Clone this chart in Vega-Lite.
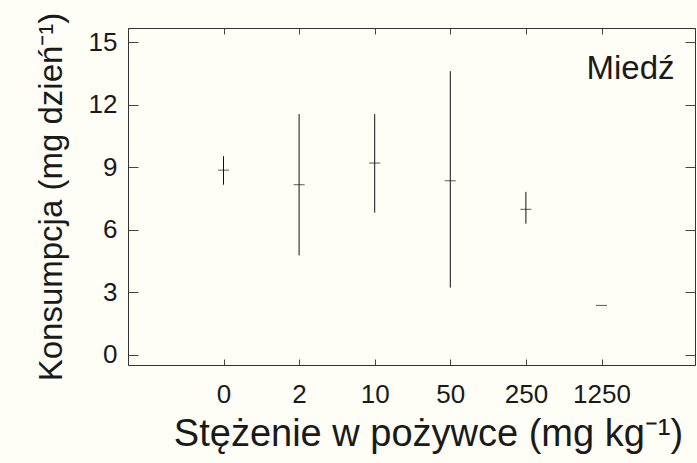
{
  "$schema": "https://vega.github.io/schema/vega-lite/v6.json",
  "width": 567,
  "height": 337,
  "autosize": {"type": "none"},
  "padding": {"left": 128, "top": 28, "right": 2, "bottom": 98},
  "background": "#fefef6",
  "layer": [
    {
      "data": {
        "values": [
          {"stezenie": "0", "srednia": 8.87, "min": 8.17, "max": 9.54},
          {"stezenie": "2", "srednia": 8.17, "min": 4.78, "max": 11.56},
          {"stezenie": "10", "srednia": 9.21, "min": 6.83, "max": 11.56},
          {"stezenie": "50", "srednia": 8.36, "min": 3.23, "max": 13.62},
          {"stezenie": "250", "srednia": 6.99, "min": 6.3, "max": 7.83},
          {"stezenie": "1250", "srednia": 2.38, "min": 2.38, "max": 2.38}
        ]
      },
      "layer": [
        {
          "mark": {"type": "rule", "color": "#111", "strokeWidth": 1},
          "encoding": {
            "x": {
              "field": "stezenie",
              "type": "ordinal",
              "sort": ["0", "2", "10", "50", "250", "1250"],
              "scale": {"type": "point", "range": [95.5, 473.5], "padding": 0},
              "axis": {
                "orient": "bottom",
                "title": "Stężenie w pożywce (mg kg⁻¹)",
                "labelAngle": 0,
                "tickSize": -6,
                "labelPadding": 22,
                "titlePadding": 8,
                "titleX": 300,
                "titleAlign": "center"
              }
            },
            "y": {
              "field": "min",
              "type": "quantitative",
              "scale": {"domain": [-0.48, 15.69], "nice": false, "zero": false},
              "axis": {
                "orient": "left",
                "title": "Konsumpcja (mg dzień⁻¹)",
                "values": [0, 3, 6, 9, 12, 15],
                "tickSize": -10,
                "labelPadding": 21,
                "titlePadding": 20
              }
            },
            "y2": {"field": "max"}
          }
        },
        {
          "mark": {"type": "tick", "color": "#111", "size": 11, "thickness": 1},
          "encoding": {
            "x": {
              "field": "stezenie",
              "type": "ordinal",
              "sort": ["0", "2", "10", "50", "250", "1250"],
              "scale": {"type": "point", "range": [95.5, 473.5], "padding": 0},
              "axis": {"orient": "top", "title": null, "labels": false, "tickSize": -6}
            },
            "y": {
              "field": "srednia",
              "type": "quantitative",
              "scale": {"domain": [-0.48, 15.69], "nice": false, "zero": false},
              "axis": {
                "orient": "right",
                "title": null,
                "labels": false,
                "values": [0, 3, 6, 9, 12, 15],
                "tickSize": -10
              }
            }
          }
        }
      ],
      "resolve": {"axis": {"x": "independent", "y": "independent"}}
    },
    {
      "data": {"values": [{"metal": "Miedź"}]},
      "mark": {
        "type": "text",
        "font": "Liberation Sans",
        "fontSize": 33,
        "color": "#1a1a1a",
        "align": "left",
        "baseline": "alphabetic",
        "dx": -15
      },
      "encoding": {
        "x": {"datum": "1250", "type": "ordinal", "axis": null},
        "y": {"datum": 13.24, "type": "quantitative", "axis": null},
        "text": {"field": "metal"}
      }
    }
  ],
  "config": {
    "view": {"stroke": "#333", "strokeWidth": 1},
    "axis": {
      "grid": false,
      "domainColor": "#333",
      "tickColor": "#444",
      "labelFont": "Liberation Sans",
      "labelFontSize": 26,
      "labelColor": "#1a1a1a",
      "titleFont": "Liberation Sans",
      "titleFontWeight": "normal",
      "titleColor": "#1a1a1a"
    },
    "axisX": {"titleFontSize": 38},
    "axisY": {"titleFontSize": 33}
  }
}
